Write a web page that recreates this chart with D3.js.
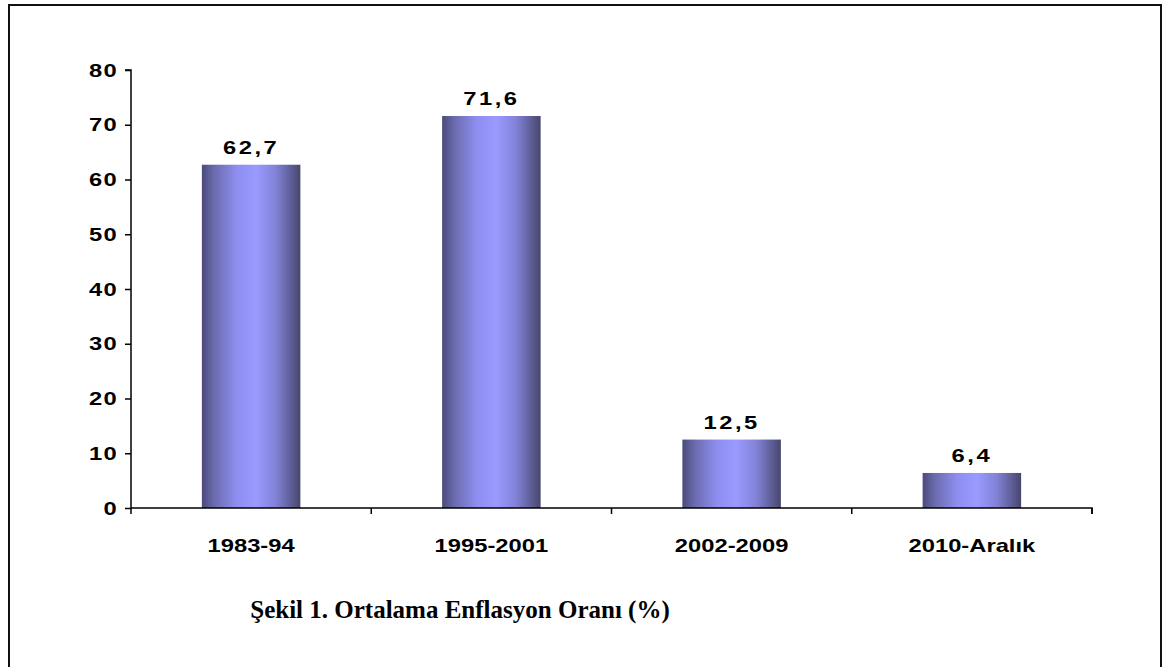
<!DOCTYPE html>
<html>
<head>
<meta charset="utf-8">
<script src="https://cdn.jsdelivr.net/npm/d3@7"></script>
<style>
  html, body { margin: 0; padding: 0; background: #fff; }
  svg { display: block; }
</style>
</head>
<body>
<svg id="chart" width="1166" height="667"></svg>
<script>
const categories = ["1983-94", "1995-2001", "2002-2009", "2010-Aralık"];
const values = [62.7, 71.6, 12.5, 6.4];
const valueLabels = ["62,7", "71,6", "12,5", "6,4"];
const yTicks = [0, 10, 20, 30, 40, 50, 60, 70, 80];
const title = "Şekil 1. Ortalama Enflasyon Oranı (%)";

const svg = d3.select("#chart");
const sansFont = "Liberation Sans, Arial, sans-serif";
const stretch = 1.25;

// Frame
svg.append("rect")
  .attr("x", 9).attr("y", 5)
  .attr("width", 1152).attr("height", 670)
  .attr("fill", "none").attr("stroke", "#111").attr("stroke-width", 2);

const mLeft = 131, mRight = 1092, mTop = 70, mBottom = 508;

const x = d3.scaleBand().domain(categories).range([mLeft, mRight]).padding(0);
const y = d3.scaleLinear().domain([0, 80]).range([mBottom, mTop]);

const defs = svg.append("defs");
const grad = defs.append("linearGradient").attr("id", "barGrad")
  .attr("x1", "0%").attr("x2", "100%").attr("y1", "0%").attr("y2", "0%");
[[0, "#4a4a7c"], [0.12, "#6a6aac"], [0.35, "#8e8ef0"], [0.55, "#9a9aff"], [0.75, "#8282d8"], [0.92, "#5a5a90"], [1, "#47476c"]]
  .forEach(([o, c]) => grad.append("stop").attr("offset", o).attr("stop-color", c));

const barW = x.bandwidth() * 0.41;

svg.append("g").selectAll("rect")
  .data(values)
  .join("rect")
  .attr("x", (d, i) => x(categories[i]) + x.bandwidth() / 2 - barW / 2)
  .attr("y", d => y(d))
  .attr("width", barW)
  .attr("height", d => y(0) - y(d))
  .attr("fill", "url(#barGrad)");

// Value labels
svg.append("g").selectAll("text")
  .data(values)
  .join("text")
  .attr("transform", (d, i) => `translate(${x(categories[i]) + x.bandwidth() / 2},${y(d) - 11}) scale(${stretch},1)`)
  .attr("text-anchor", "middle")
  .attr("font-family", sansFont)
  .attr("font-weight", "bold")
  .attr("font-size", 19)
  .attr("letter-spacing", 2)
  .attr("fill", "#000")
  .text((d, i) => valueLabels[i]);

// Y axis
const yAxis = d3.axisLeft(y).tickValues(yTicks).tickSize(6).tickPadding(7).tickFormat(d3.format("d"));
const gy = svg.append("g").attr("transform", `translate(${mLeft},0)`).call(yAxis);
gy.select(".domain").attr("stroke", "#000").attr("stroke-width", 1.5).attr("d", `M-6,${mTop}H0V${mBottom}`);
gy.selectAll(".tick line").attr("stroke", "#000").attr("stroke-width", 1.5);
gy.selectAll(".tick text")
  .attr("x", 0)
  .attr("transform", `translate(-13,0) scale(${stretch},1)`)
  .attr("font-family", sansFont)
  .attr("font-weight", "bold").attr("font-size", 19).attr("letter-spacing", 1).attr("fill", "#000");

// X axis
const xAxis = d3.axisBottom(x).tickSize(0).tickPadding(0);
const gx = svg.append("g").attr("transform", `translate(0,${mBottom})`).call(xAxis);
gx.select(".domain").attr("stroke", "#000").attr("stroke-width", 1.5).attr("d", `M${mLeft},0H${mRight}V6`);
gx.selectAll(".tick text")
  .attr("y", 0).attr("dy", null)
  .attr("transform", `translate(0,44) scale(${stretch},1)`)
  .attr("font-family", sansFont)
  .attr("font-weight", "bold").attr("font-size", 19).attr("fill", "#000");
// band boundary ticks
const bounds = categories.map(c => x(c)).concat([mRight]);
gx.append("g").selectAll("line").data(bounds).join("line")
  .attr("x1", d => d).attr("x2", d => d).attr("y1", 0).attr("y2", 6)
  .attr("stroke", "#000").attr("stroke-width", 1.5);

// Title
svg.append("text")
  .attr("x", 460).attr("y", 618)
  .attr("text-anchor", "middle")
  .attr("font-family", "Liberation Serif, Times New Roman, serif")
  .attr("font-weight", "bold").attr("font-size", 25)
  .attr("fill", "#000")
  .text(title);
</script>
</body>
</html>
